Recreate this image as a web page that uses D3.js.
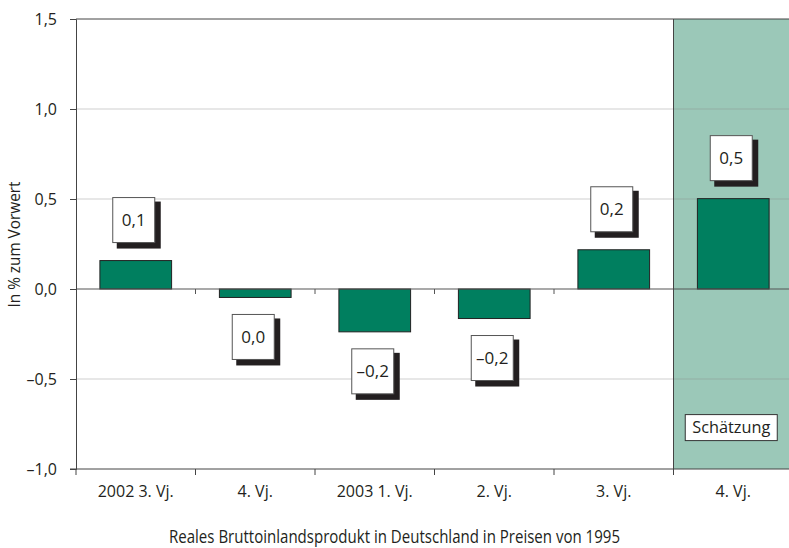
<!DOCTYPE html>
<html>
<head>
<meta charset="utf-8">
<script src="https://cdn.jsdelivr.net/npm/d3@7"></script>
<style>
  body { margin: 0; background: #fff; }
  svg text { font-family: "Open Sans", sans-serif; fill: #231f20; }
</style>
</head>
<body>
<svg id="chart" width="789" height="548"></svg>
<script>
var categories = ["2002 3. Vj.", "4. Vj.", "2003 1. Vj.", "2. Vj.", "3. Vj.", "4. Vj."];
var values = [0.158, -0.047, -0.238, -0.164, 0.218, 0.502];
var valueLabels = ["0,1", "0,0", "\u20130,2", "\u20130,2", "0,2", "0,5"];
var yTicks = [-1.0, -0.5, 0.0, 0.5, 1.0, 1.5];
var yTickLabels = ["\u20131,0", "\u20130,5", "0,0", "0,5", "1,0", "1,5"];
var estimateIndex = 5;

var plotLeft = 76, plotRight = 793, plotTop = 19, plotBottom = 469;
var axisColor = "#444", barColor = "#007f5f", shadeColor = "#9bc8b8";

var svg = d3.select("#chart");

// categories repeat ("4. Vj."), so the band scale works on indices
var x = d3.scaleBand()
    .domain(d3.range(categories.length))
    .range([plotLeft, plotRight])
    .paddingInner(0.4)
    .paddingOuter(0.2);

var y = d3.scaleLinear()
    .domain([-1, 1.5])
    .range([plotBottom, plotTop]);

var half = (x.step() - x.bandwidth()) / 2;
function bandStart(i){ return x(i) - half; }
function bandMid(i){ return x(i) + x.bandwidth() / 2; }

// shaded forecast area
svg.append("rect")
  .attr("x", bandStart(estimateIndex))
  .attr("y", plotTop)
  .attr("width", 789 - bandStart(estimateIndex))
  .attr("height", plotBottom - plotTop)
  .attr("fill", shadeColor);

// grid
svg.selectAll(".grid")
  .data(yTicks.filter(d => d != 0 && d != -1 && d != 1.5))
 .enter().append("line")
  .attr("class", "grid")
  .attr("x1", plotLeft).attr("x2", 789)
  .attr("y1", d => y(d)).attr("y2", d => y(d))
  .attr("stroke", "#888")
  .attr("stroke-opacity", 0.4);

// top border
svg.append("line")
  .attr("x1", plotLeft).attr("x2", 789)
  .attr("y1", y(1.5)).attr("y2", y(1.5))
  .attr("stroke", axisColor);

// bars
svg.selectAll(".bar")
  .data(values)
 .enter().append("rect")
  .attr("class", "bar")
  .attr("x", (d, i) => x(i))
  .attr("y", d => y(Math.max(0, d)))
  .attr("width", x.bandwidth())
  .attr("height", d => Math.abs(y(d) - y(0)))
  .attr("fill", barColor)
  .attr("stroke", "#222")
  .attr("stroke-width", 1);

// zero line with small ticks
svg.append("line")
  .attr("x1", plotLeft).attr("x2", 789)
  .attr("y1", y(0)).attr("y2", y(0))
  .attr("stroke", "#555")
  .attr("stroke-width", 1.2);
svg.selectAll(".zeroTick")
  .data(d3.range(1, estimateIndex))
 .enter().append("line")
  .attr("x1", i => bandStart(i)).attr("x2", i => bandStart(i))
  .attr("y1", y(0)).attr("y2", y(0) + 5)
  .attr("stroke", "#555");

// forecast boundary
svg.append("line")
  .attr("x1", bandStart(estimateIndex)).attr("x2", bandStart(estimateIndex))
  .attr("y1", plotTop).attr("y2", plotBottom + 6)
  .attr("stroke", axisColor);

// y axis
var yAxis = svg.append("g")
  .attr("transform", "translate(" + plotLeft + ",0)")
  .call(d3.axisLeft(y).tickValues(yTicks).tickSize(6).tickPadding(13)
    .tickFormat((d, i) => yTickLabels[i]));
yAxis.select(".domain").attr("stroke", axisColor);
yAxis.selectAll(".tick line").attr("stroke", axisColor);
yAxis.selectAll(".tick text")
  .style("font-size", "16px")
  .attr("fill", "#231f20");

// x axis
var xAxis = svg.append("g")
  .attr("transform", "translate(0," + plotBottom + ")");
xAxis.append("line")
  .attr("x1", plotLeft - 6).attr("x2", 789)
  .attr("stroke", axisColor);
xAxis.selectAll(".xTick")
  .data(d3.range(0, categories.length))
 .enter().append("line")
  .attr("x1", i => bandStart(i)).attr("x2", i => bandStart(i))
  .attr("y1", 0).attr("y2", 6)
  .attr("stroke", axisColor);
xAxis.selectAll(".xLabel")
  .data(categories)
 .enter().append("text")
  .attr("x", (d, i) => bandMid(i))
  .attr("y", 28)
  .attr("text-anchor", "middle")
  .style("font-size", "16px")
  .text(d => d);

// value boxes with shadow
var boxW = 42, boxH = 45;
var boxes = svg.selectAll(".valueBox")
  .data(values)
 .enter().append("g")
  .attr("class", "valueBox")
  .attr("transform", function(d, i){
    var bx = bandMid(i) - 2 - boxW / 2;
    var by = d >= 0 ? y(d) - 18 - boxH : y(d) + 17;
    return "translate(" + bx + "," + by + ")";
  });
boxes.append("rect")
  .attr("x", 4).attr("y", 4)
  .attr("width", boxW + 2).attr("height", boxH + 2)
  .attr("fill", "#231f20");
boxes.append("rect")
  .attr("width", boxW).attr("height", boxH)
  .attr("fill", "#fff")
  .attr("stroke", "#555");
boxes.append("text")
  .attr("x", boxW / 2).attr("y", boxH / 2 + 6)
  .attr("text-anchor", "middle")
  .style("font-size", "17px")
  .text((d, i) => valueLabels[i]);

// estimate label
var est = svg.append("g")
  .attr("transform", "translate(" + (bandMid(estimateIndex) - 2) + "," + y(-0.77) + ")");
est.append("rect")
  .attr("x", -46).attr("y", -13)
  .attr("width", 92).attr("height", 26)
  .attr("fill", "#fff")
  .attr("stroke", "#333");
est.append("text")
  .attr("y", 5.5)
  .attr("text-anchor", "middle")
  .style("font-size", "16px")
  .attr("textLength", 78)
  .attr("lengthAdjust", "spacingAndGlyphs")
  .text("Sch\u00e4tzung");

// axis titles
svg.append("text")
  .attr("transform", "translate(20,244.5) rotate(-90)")
  .attr("text-anchor", "middle")
  .style("font-size", "16px")
  .attr("textLength", 126)
  .attr("lengthAdjust", "spacingAndGlyphs")
  .text("In % zum Vorwert");

svg.append("text")
  .attr("x", 169).attr("y", 542.5)
  .style("font-size", "19px")
  .attr("textLength", 451)
  .attr("lengthAdjust", "spacingAndGlyphs")
  .text("Reales Bruttoinlandsprodukt in Deutschland in Preisen von 1995");
</script>
</body>
</html>
